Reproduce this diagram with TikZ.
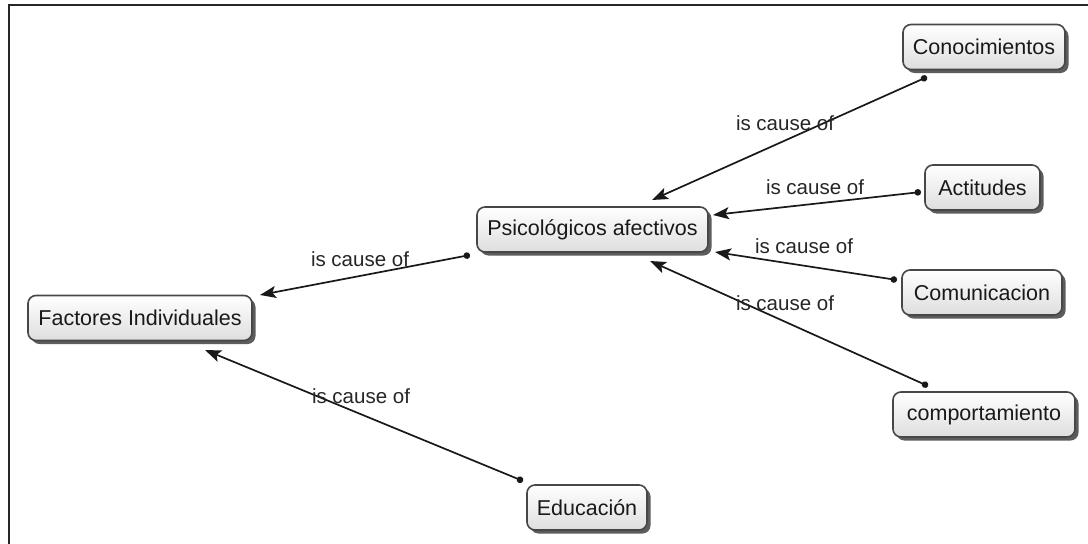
\documentclass[tikz,border=0pt]{standalone}
\usepackage{fontspec}
\setmainfont{Liberation Sans}
\usetikzlibrary{arrows.meta,shadows,calc}
\tikzset{
  concept/.style={draw=black!72, line width=1.6pt, rounded corners=8pt,
    top color=white, bottom color=black!13, minimum height=45pt,
    inner sep=0pt, text=black!90,
    font=\fontsize{21.5}{24}\selectfont,
    drop shadow={shadow xshift=3.5pt, shadow yshift=-3.5pt, opacity=0.75, fill=black!85}},
  link/.style={draw=black!90, line width=1.7pt,
    {Circle[length=6.5pt]}-{Stealth[length=16pt,width=12pt,inset=3.5pt]}},
  lbl/.style={text=black!85, font=\fontsize{20.5}{23}\selectfont, inner sep=1pt}
}
\begin{document}
\begin{tikzpicture}[x=1pt,y=-1pt]
\useasboundingbox (0,0) rectangle (1088,544);
\fill[white] (0,0) rectangle (1088,544);
\draw[black!85, line width=2pt] (9,544) -- (9,5) -- (1088,5);

\node[concept, minimum width=162pt] (con) at (984,47) {Conocimientos};
\node[concept, minimum width=115pt] (act) at (982.5,187.5) {Actitudes};
\node[concept, minimum width=231pt] (psi) at (592.5,229.5) {Psicológicos afectivos};
\node[concept, minimum width=160pt] (com) at (982,292.5) {Comunicacion};
\node[concept, minimum width=182pt] (cmp) at (984,414.5) {comportamiento};
\node[concept, minimum width=224pt] (fac) at (140,318) {Factores Individuales};
\node[concept, minimum width=120pt] (edu) at (587,507.5) {Educación};

\draw[link] ($(con.center)+(-57,30)$) -- ($(psi.center)+(59.5,-29.5)$);
\draw[link] ($(act.center)+(-61.5,4.5)$) -- ($(psi.center)+(120.5,-14.5)$);
\draw[link] ($(com.center)+(-85,-12.5)$) -- ($(psi.center)+(122.5,22.5)$);
\draw[link] ($(cmp.center)+(-56,-28.5)$) -- ($(psi.center)+(57.5,31.5)$);
\draw[link] ($(psi.center)+(-122.5,25.5)$) -- ($(fac.center)+(120,-23)$);
\draw[link] ($(edu.center)+(-64,-26.5)$) -- ($(fac.center)+(65,32)$);

\node[lbl] (l1) at (785,123) {is cause of};
\node[lbl] (l2) at (815,187) {is cause of};
\node[lbl] (l3) at (804,246) {is cause of};
\node[lbl] (l4) at (785,303) {is cause of};
\node[lbl] (l5) at (360,259) {is cause of};
\node[lbl] (l6) at (361,396) {is cause of};
\end{tikzpicture}
\end{document}
